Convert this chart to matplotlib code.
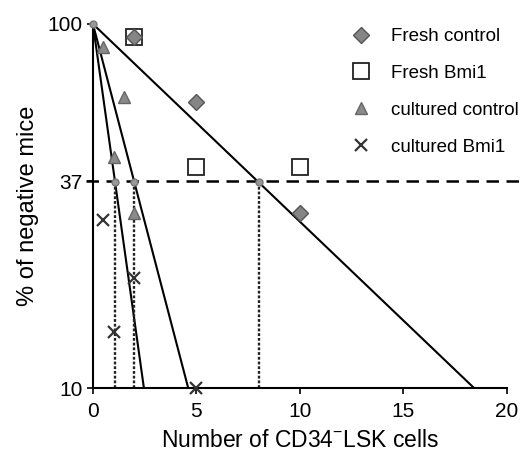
import numpy as np
import matplotlib
matplotlib.use("Agg")
import matplotlib.pyplot as plt
from matplotlib.lines import Line2D

plt.rcParams['font.family'] = ['Liberation Sans', 'DejaVu Sans']

# data
fresh_ctrl_x = [2, 5, 10]
fresh_ctrl_y = [92, 61, 30.3]
fresh_bmi_x = [2, 5, 10]
fresh_bmi_y = [92, 40.5, 40.5]
cult_ctrl_x = [0.5, 1.5, 1, 2]
cult_ctrl_y = [86.5, 63, 43, 30.2]
cult_bmi_x = [0.5, 2, 1, 5]
cult_bmi_y = [28.9, 20.1, 14.3, 10]
fit_F = [1.07, 2.0, 8.0]   # cells at 37% negative
xticks = [0, 5, 10, 15, 20]
yticks = [10, 37, 100]

fig = plt.figure(figsize=(5.28, 4.61), dpi=100)
ax = fig.add_axes([0.176, 0.158, 0.784, 0.79])
ax.set_yscale('log')
ax.set_xlim(0, 20)
ax.set_ylim(10, 100)

# fitted lines
for F in fit_F:
    xe = F * np.log(10)
    ax.plot([0, xe], [100, 10], color='black', lw=1.5, zorder=2)
    ax.plot([F, F], [10, 100 * np.exp(-1)], color='#222222', lw=1.7,
            ls=(0, (1.2, 0.8)), zorder=2)
    ax.plot([F], [100 * np.exp(-1)], 'o', ms=5, mfc='#999999', mec='#777777', zorder=4)
ax.plot([0], [100], 'o', ms=5, mfc='#999999', mec='#777777', zorder=4, clip_on=False)

ax.plot([-0.35, 20.8], [37, 37], color='black', lw=1.8, ls=(0, (5, 3)),
        clip_on=False, zorder=2)

ax.plot(fresh_bmi_x, fresh_bmi_y, 's', ms=12, mfc='white', mec='#222222', mew=1.3,
        ls='none', zorder=3, clip_on=False)
ax.plot(fresh_ctrl_x, fresh_ctrl_y, 'D', ms=8.5, mfc='#858585', mec='#555555', mew=1,
        ls='none', zorder=4, clip_on=False)
ax.plot(cult_ctrl_x, cult_ctrl_y, '^', ms=9, mfc='#8a8a8a', mec='#666666', mew=1,
        ls='none', zorder=4, clip_on=False)
ax.plot(cult_bmi_x, cult_bmi_y, 'x', ms=8, mec='#333333', mew=1.6,
        ls='none', zorder=5, clip_on=False)

for s in ['top', 'right']:
    ax.spines[s].set_visible(False)
for s in ['left', 'bottom']:
    ax.spines[s].set_linewidth(1.5)

ax.set_xticks(xticks)
ax.set_xticklabels([str(t) for t in xticks])
ax.set_yticks(yticks)
ax.set_yticklabels([str(t) for t in yticks])
ax.yaxis.set_minor_locator(matplotlib.ticker.NullLocator())
ax.tick_params(axis='both', labelsize=15, width=1.2, length=4, direction='out')
ax.tick_params(axis='x', pad=6)

ax.set_xlabel('Number of CD34$^{\\mathregular{-}}$LSK cells', fontsize=16.5, labelpad=6)
ax.set_ylabel('% of negative mice', fontsize=17, labelpad=6)

handles = [
    Line2D([], [], marker='D', ms=8.5, mfc='#858585', mec='#555555', ls='none'),
    Line2D([], [], marker='s', ms=12, mfc='white', mec='#222222', mew=1.3, ls='none'),
    Line2D([], [], marker='^', ms=9, mfc='#8a8a8a', mec='#666666', ls='none'),
    Line2D([], [], marker='x', ms=8, mec='#333333', mew=1.6, ls='none'),
]
labels = ['Fresh control', 'Fresh Bmi1', 'cultured control', 'cultured Bmi1']
fig.legend(handles, labels, loc='upper left', bbox_to_anchor=(0.634, 0.976),
           frameon=False, fontsize=13.5, handlelength=1.0, handletextpad=1.1,
           labelspacing=1.05)

fig.savefig('out.png', dpi=100)
